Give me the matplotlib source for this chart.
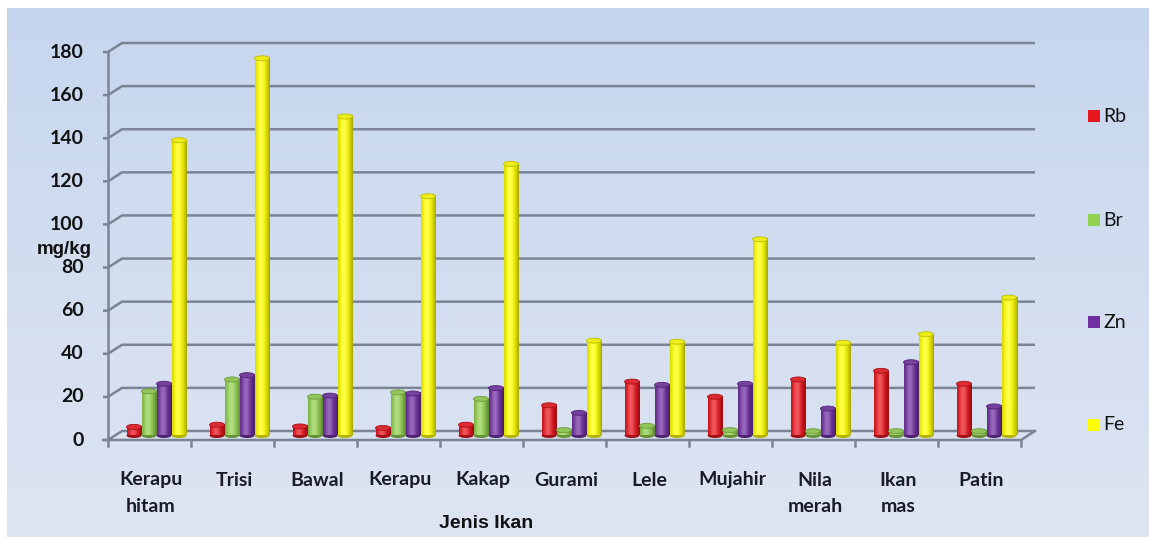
import matplotlib
matplotlib.use('Agg')
import matplotlib.pyplot as plt
import numpy as np
from matplotlib.colors import to_rgb
from matplotlib.patches import Ellipse, Rectangle

# ---------------- data ----------------
categories = ['Kerapu\nhitam', 'Trisi', 'Bawal', 'Kerapu', 'Kakap', 'Gurami',
              'Lele', 'Mujahir', 'Nila\nmerah', 'Ikan\nmas', 'Patin']
rb = [4, 5, 4.2, 3.5, 5, 14, 25, 18, 26, 30, 24]
br = [20.5, 26, 18, 20, 17, 2.5, 4.5, 2.5, 2, 2, 2]
zn = [24, 28, 18.5, 19.5, 22, 10.5, 23.5, 24, 12.5, 34, 13.5]
fe = [137, 175, 148, 111, 126, 44, 43.5, 91, 43, 47, 64]
series_names = ['Rb', 'Br', 'Zn', 'Fe']
yticks = [0, 20, 40, 60, 80, 100, 120, 140, 160, 180]
y_label = 'mg/kg'
x_label = 'Jenis Ikan'

series = [rb, br, zn, fe]
colors = ['#E8161E', '#92D050', '#7030A0', '#FFFF00']

W, H = 1149, 541
fig = plt.figure(figsize=(W / 100, H / 100), dpi=100)

# background panel with vertical gradient
bg = fig.add_axes([7 / W, (H - 537) / H, (W - 7) / W, (537 - 8) / H])
t = np.linspace(0, 1, 256)[:, None, None]
top = np.array([198, 214, 238]) / 255
bot = np.array([222, 229, 242]) / 255
img = top + (bot - top) * t
bg.imshow(img, aspect='auto', extent=[0, 1, 0, 1])
bg.set_axis_off()

# plotting axes (front plane)
x0, x1, y0, y1 = 108, 1021, 440, 52
ax = fig.add_axes([x0 / W, (H - y0) / H, (x1 - x0) / W, (y0 - y1) / H])
n = len(categories)
ax.patch.set_alpha(0)
for s in ax.spines.values():
    s.set_visible(False)
ax.set_xticks([])
ax.set_yticks([])

px_x = (x1 - x0) / n
px_y = (y0 - y1) / 180.0
DX = 14 / px_x
DY = 9 / px_y
TK = 5 / px_x
gcol = '#7A8494'

# back wall gridlines + slanted connectors + front ticks
for v in yticks:
    ax.plot([-TK, 0, DX, n + DX], [v, v, v + DY, v + DY], color=gcol, lw=1.8,
            clip_on=False, zorder=1, solid_capstyle='butt')
    ax.text(-(x0 - 84) / px_x, v, str(v), ha='right', va='center',
            fontsize=14, fontweight='bold', family='Lato', color='#111111')
# front y axis line
ax.plot([0, 0], [0, 180], color=gcol, lw=1.8, clip_on=False, zorder=5)
# floor front line and right edge
ax.plot([-TK, n, n + DX], [0, 0, DY], color=gcol, lw=1.8, clip_on=False, zorder=5)
# category ticks
for i in range(n + 1):
    ax.plot([i, i], [0, -6 / px_y], color=gcol, lw=1.8, clip_on=False, zorder=5)


def cyl_img(c):
    base = np.array(to_rgb(c))
    u = np.linspace(0, 1, 40)
    light = np.clip(1 - ((u - 0.4) / 0.62) ** 2, 0, 1)
    shade = base[None, :] * (0.62 + 0.38 * light)[:, None] \
        + (1 - base[None, :]) * (0.28 * light ** 6)[:, None]
    return np.clip(shade, 0, 1)[None, :, :]


def lighten(c, f):
    b = np.array(to_rgb(c))
    return tuple(b + (1 - b) * f)


def darken(c, f):
    b = np.array(to_rgb(c))
    return tuple(b * (1 - f))


# bars (cylinder look)
bw = 15 / px_x
eh = 5 / px_y
xs = np.arange(n) + 0.5 + DX / 2
base_y = DY / 2
for k, (vals, c) in enumerate(zip(series, colors)):
    im = cyl_img(c)
    bars = ax.bar(xs + (k - 1.5) * bw, vals, width=bw, bottom=base_y,
                  color='none', edgecolor='none', zorder=3, clip_on=False)
    for b, v in zip(bars, vals):
        l = b.get_x()
        r = l + bw
        tp = base_y + v
        ax.imshow(im, extent=[l, r, base_y, tp], aspect='auto', zorder=3,
                  interpolation='bilinear', clip_on=False)
        ax.add_patch(Ellipse((l + bw / 2, base_y), bw, eh, facecolor=darken(c, 0.3),
                             edgecolor='none', zorder=2.9, clip_on=False))
        ax.add_patch(Ellipse((l + bw / 2, tp), bw, eh, facecolor=lighten(darken(c, 0.08), 0.1),
                             edgecolor=darken(c, 0.25), linewidth=0.6, zorder=3.1,
                             clip_on=False))

ax.set_xlim(0, n)
ax.set_ylim(0, 180)

# category labels
for i, lab in enumerate(categories):
    lines = lab.split('\n')
    for j, ln in enumerate(lines):
        ax.text(i + 0.5 + 1.5 / px_x, -(480 + 26 * j - y0) / px_y, ln,
                ha='center', va='center', fontsize=14, fontweight='bold',
                family='Lato', color='#1A1A2A')

# axis titles
fig.text(64 / W, (H - 249) / H, y_label, ha='center', va='center', fontsize=13.5,
         fontweight='bold', family='Liberation Sans', color='#111111')
fig.text(486 / W, (H - 524) / H, x_label, ha='center', va='center', fontsize=14,
         fontweight='bold', family='Liberation Sans', color='#111111')

# legend
leg_y = [116, 220, 322, 425]
for name, c, ly in zip(series_names, colors, leg_y):
    fig.patches.append(Rectangle((1088 / W, (H - ly - 6) / H), 12 / W, 12 / H,
                                 transform=fig.transFigure, facecolor=c,
                                 edgecolor='none'))
    fig.text(1103 / W, (H - ly) / H, name, ha='left', va='center', fontsize=14,
             family='Lato', color='#111111')

fig.savefig('out.png', dpi=100)
